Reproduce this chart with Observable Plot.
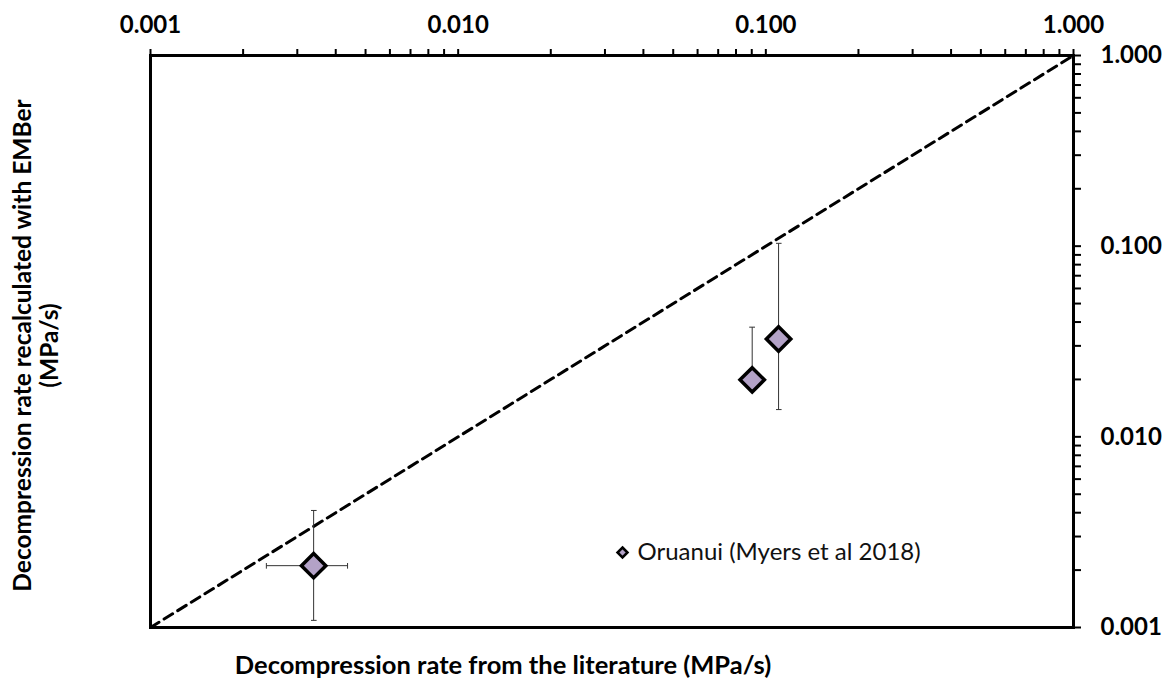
<!DOCTYPE html>
<html>
<head>
<meta charset="utf-8">
<script src="https://cdn.jsdelivr.net/npm/d3@7"></script>
<script src="https://cdn.jsdelivr.net/npm/@observablehq/plot@0.6"></script>
<style>
  html, body { margin: 0; padding: 0; background: #fff; }
  #chart { width: 1169px; height: 691px; }
</style>
</head>
<body>
<div id="chart"></div>
<script>
// ---- data ----
const seriesName = "Oruanui (Myers et al 2018)";
const litRate   = [0.00339, 0.0903, 0.110];   // x: decompression rate from literature
const emberRate = [0.00211, 0.0199, 0.0326];  // y: recalculated with EMBer
const litLow    = [0.00238, null, null];
const litHigh   = [0.00437, null, null];
const emberLow  = [0.00109, null, 0.0139];
const emberHigh = [0.00411, 0.0376, 0.1035];
const oneToOne  = [0.001, 1];
const axisDomain = [0.001, 1];
const majorTickLabels = ["0.001", "0.010", "0.100", "1.000"];
const xTitle = "Decompression rate from the literature (MPa/s)";
const yTitle = "Decompression rate recalculated with EMBer\n(MPa/s)";

// ---- table ----
const points = litRate.map((x, i) => ({
  x, y: emberRate[i],
  xl: litLow[i], xh: litHigh[i], yl: emberLow[i], yh: emberHigh[i]
}));
const diag = oneToOne.map(v => ({x: v, y: v}));
const ticks = d3.scaleLog().domain(axisDomain).ticks();
const isMajor = d => Math.abs(Math.log10(d) - Math.round(Math.log10(d))) < 1e-9;
const fmt = d => isMajor(d) ? majorTickLabels[Math.round(Math.log10(d)) + 3] : "";

const fill = "#b3a2c7";
const errColor = "#333";

const chart = Plot.plot({
  width: 1169,
  height: 691,
  marginLeft: 150,
  marginRight: 96,
  marginTop: 55,
  marginBottom: 64,
  style: {fontFamily: "Lato, 'Open Sans', sans-serif", fontSize: "24px", fontWeight: "bold", color: "#000", background: "#fff"},
  x: {type: "log", domain: axisDomain},
  y: {type: "log", domain: axisDomain},
  marks: [
    Plot.axisX({anchor: "top", ticks, tickFormat: fmt, tickSize: 7, tickPadding: 16, strokeWidth: 2, fontSize: 24, label: null}),
    Plot.axisY({anchor: "right", ticks, tickFormat: fmt, tickSize: 7, tickPadding: 20, strokeWidth: 2, fontSize: 24, label: null}),
    Plot.line(diag, {x: "x", y: "y", stroke: "black", strokeWidth: 3, strokeDasharray: "10,6"}),
    // error bars
    Plot.link(points.filter(d => d.yh != null), {x1: "x", x2: "x", y1: "y", y2: "yh", stroke: errColor, strokeWidth: 1, markerEnd: "tick"}),
    Plot.link(points.filter(d => d.yl != null), {x1: "x", x2: "x", y1: "y", y2: "yl", stroke: errColor, strokeWidth: 1, markerEnd: "tick"}),
    Plot.link(points.filter(d => d.xh != null), {x1: "x", x2: "xh", y1: "y", y2: "y", stroke: errColor, strokeWidth: 1, markerEnd: "tick"}),
    Plot.link(points.filter(d => d.xl != null), {x1: "x", x2: "xl", y1: "y", y2: "y", stroke: errColor, strokeWidth: 1, markerEnd: "tick"}),
    Plot.dot(points, {x: "x", y: "y", symbol: "diamond2", r: 11, fill, stroke: "black", strokeWidth: 3.5}),
    Plot.frame({stroke: "black", strokeWidth: 3}),
    // legend
    Plot.dot([seriesName], {frameAnchor: "top-left", dx: 472, dy: 497, symbol: "diamond2", r: 4.5, fill, stroke: "black", strokeWidth: 2.5}),
    Plot.text([seriesName], {frameAnchor: "top-left", dx: 487, dy: 497, text: d => d, textAnchor: "start", lineAnchor: "middle", fontSize: 24, fontWeight: "normal", fill: "#111"}),
    // axis titles
    Plot.text([xTitle], {frameAnchor: "bottom", dx: -109, dy: 38, text: d => d, lineAnchor: "middle", fontSize: 25.5, fontWeight: "bold"}),
    Plot.text([yTitle], {frameAnchor: "left", dx: -115, dy: 4, rotate: -90, text: d => d, textAnchor: "middle", lineAnchor: "middle", lineHeight: 1.1, fontSize: 24.5, fontWeight: "bold"})
  ]
});
document.getElementById("chart").appendChild(chart);
</script>
</body>
</html>
